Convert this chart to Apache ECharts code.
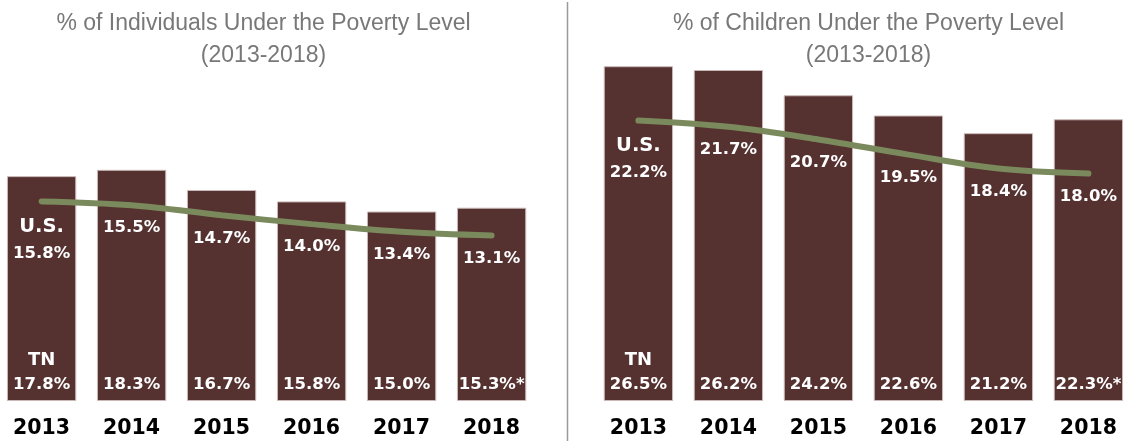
<!DOCTYPE html>
<html>
<head>
<meta charset="utf-8">
<script src="https://cdn.jsdelivr.net/npm/echarts@6/dist/echarts.min.js"></script>
<style>
html,body{margin:0;padding:0;background:#fff;}
#chart{width:1125px;height:441px;}
</style>
</head>
<body>
<div id="chart"></div>
<script>
// ---- data ----
var years = ['2013', '2014', '2015', '2016', '2017', '2018'];
var tnIndividuals = [17.8, 18.3, 16.7, 15.8, 15.0, 15.3];
var usIndividuals = [15.8, 15.5, 14.7, 14.0, 13.4, 13.1];
var tnChildren = [26.5, 26.2, 24.2, 22.6, 21.2, 22.3];
var usChildren = [22.2, 21.7, 20.7, 19.5, 18.4, 18.0];
var tnNotes = ['', '', '', '', '', '*'];
var titleLeft = '% of Individuals Under the Poverty Level\n(2013-2018)';
var titleRight = '% of Children Under the Poverty Level\n(2013-2018)';

var BAR = '#553130';
var LINE = '#7b8a5c';
var BOLD = '"DejaVu Sans", sans-serif';

function barData(vals) {
  return vals.map(function (v, i) {
    var txt = v.toFixed(1) + '%' + tnNotes[i];
    if (i === 0) {
      return { value: v, label: { formatter: '{tn|TN}\n{v|' + txt + '}' } };
    }
    return { value: v, label: { formatter: '{v|' + txt + '}' } };
  });
}
function lineData(vals) {
  return vals.map(function (v, i) {
    var txt = v.toFixed(1) + '%';
    if (i === 0) {
      return { value: v, label: { formatter: '{us|U.S.}\n{v|' + txt + '}', offset: [0, 39] } };
    }
    return { value: v, label: { formatter: '{v|' + txt + '}', offset: [0, 23] } };
  });
}

var chart = echarts.init(document.getElementById('chart'), null, { renderer: 'canvas' });

function xAxis(idx) {
  return {
    type: 'category', gridIndex: idx, data: years,
    axisLine: { show: false }, axisTick: { show: false },
    axisLabel: { color: '#000', fontFamily: BOLD, fontWeight: 'bold', fontSize: 20.5, margin: 18, lineHeight: 20 }
  };
}
function yAxis(idx) {
  return {
    type: 'value', gridIndex: idx, min: 0, max: 30, interval: 10, show: false,
    splitLine: { show: false }
  };
}
function barSeries(idx, vals) {
  return {
    type: 'bar', xAxisIndex: idx, yAxisIndex: idx, data: barData(vals),
    barCategoryGap: '23%',
    itemStyle: { color: BAR, borderColor: '#cbb9b8', borderWidth: 1 },
    label: {
      show: true, position: 'insideBottom', distance: 8,
      rich: {
        tn: { color: '#fff', fontFamily: BOLD, fontWeight: 'bold', fontSize: 18, lineHeight: 33 },
        v: { color: '#fff', fontFamily: BOLD, fontWeight: 'bold', fontSize: 16.5, lineHeight: 16 }
      }
    },
    z: 2
  };
}
function lineSeries(idx, vals) {
  return {
    type: 'line', xAxisIndex: idx, yAxisIndex: idx, data: lineData(vals),
    smooth: 0.35, symbol: 'circle', symbolSize: 2,
    itemStyle: { color: LINE },
    lineStyle: { color: LINE, width: 6, cap: 'round' },
    label: {
      show: true, position: 'inside',
      rich: {
        us: { color: '#fff', fontFamily: BOLD, fontWeight: 'bold', fontSize: 19.5, lineHeight: 26.5 },
        v: { color: '#fff', fontFamily: BOLD, fontWeight: 'bold', fontSize: 16.5, lineHeight: 26.5 }
      }
    },
    z: 3
  };
}

var titleStyle = { color: '#787878', fontFamily: '"Liberation Sans", Arial, sans-serif', fontWeight: 'normal', fontSize: 23, lineHeight: 32 };

chart.setOption({
  animation: false,
  title: [
    { text: titleLeft, left: 263.5, top: 8, textAlign: 'center', textStyle: titleStyle, padding: 0 },
    { text: titleRight, left: 868.5, top: 8, textAlign: 'center', textStyle: titleStyle, padding: 0 }
  ],
  grid: [
    { left: -3.4, width: 540, top: 22, bottom: 40, containLabel: false, outerBoundsMode: 'none' },
    { left: 593.4, width: 540, top: 22, bottom: 40, containLabel: false, outerBoundsMode: 'none' }
  ],
  xAxis: [xAxis(0), xAxis(1)],
  yAxis: [yAxis(0), yAxis(1)],
  graphic: [
    { type: 'line', shape: { x1: 567.5, y1: 2, x2: 567.5, y2: 441 }, style: { stroke: '#9a9a9a', lineWidth: 1.5 }, z: 10 }
  ],
  series: [
    barSeries(0, tnIndividuals), lineSeries(0, usIndividuals),
    barSeries(1, tnChildren), lineSeries(1, usChildren)
  ]
});
</script>
</body>
</html>
